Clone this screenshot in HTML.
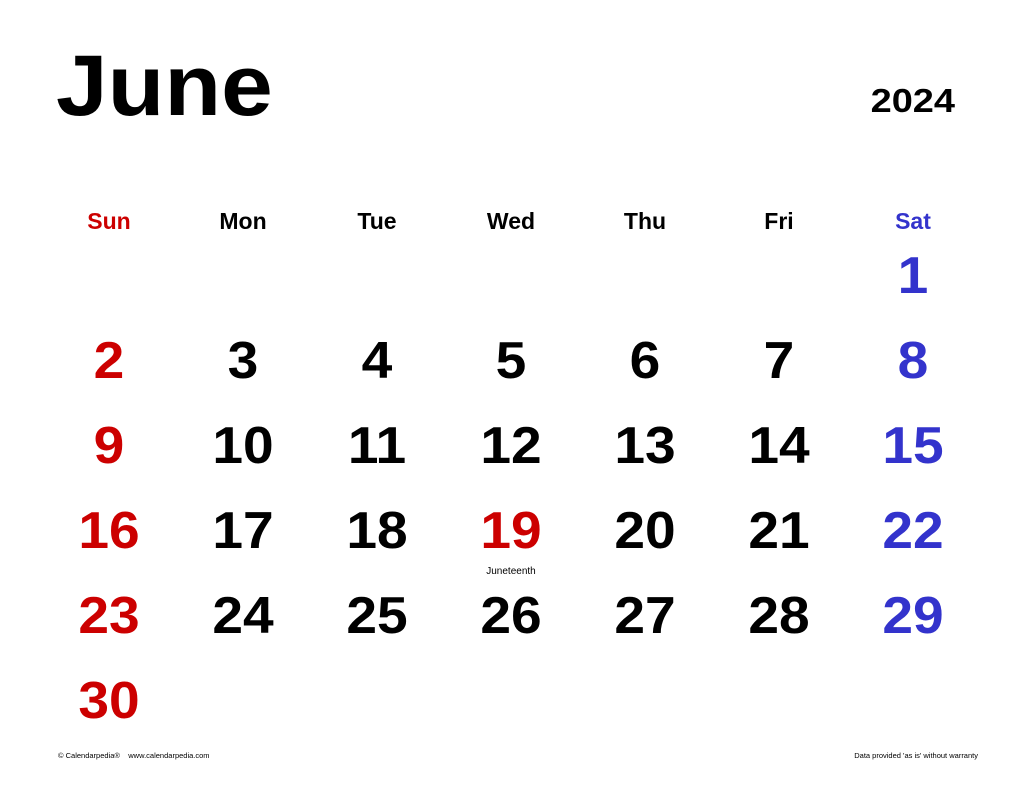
<!DOCTYPE html>
<html><head><meta charset="utf-8"><style>
html,body{margin:0;padding:0;background:#fff;}
svg{display:block;font-family:"Liberation Sans",Arial,sans-serif;font-weight:bold;}
</style></head><body>
<svg width="1024" height="791" viewBox="0 0 1024 791">
<text transform="translate(56,115) scale(1.08,1)" font-size="86">June</text>
<text transform="translate(955,112) scale(1.15,1)" font-size="33" text-anchor="end">2024</text>
<g id="hdr" font-size="23" text-anchor="middle"></g>
<g id="days" font-size="52" text-anchor="middle"></g>
<text x="511" y="574" font-size="10" font-weight="normal" text-anchor="middle">Juneteenth</text>
<text x="58" y="758" font-size="7.5" font-weight="normal" xml:space="preserve">© Calendarpedia®    www.calendarpedia.com</text>
<text x="978" y="758" font-size="7.5" font-weight="normal" text-anchor="end">Data provided 'as is' without warranty</text>
</svg>
<script>
const weekdays=["Sun","Mon","Tue","Wed","Thu","Fri","Sat"];
const firstWeekday=6;
const daysInMonth=30;
const holidays=[19];
const NS="http://www.w3.org/2000/svg";
function colX(c){return 109+c*134;}
function rowY(r){return 297+r*85;}
function color(c,d){if(c===0||holidays.includes(d))return"#cc0000";if(c===6)return"#3333cc";return"#000";}
const hdr=document.getElementById("hdr");
weekdays.forEach((w,i)=>{const t=document.createElementNS(NS,"text");
t.setAttribute("x",colX(i));t.setAttribute("y",229);
t.setAttribute("fill",i===0?"#cc0000":i===6?"#3333cc":"#000");
t.textContent=w;


hdr.appendChild(t);});
const days=document.getElementById("days");
for(let d=1;d<=daysInMonth;d++){const idx=firstWeekday+d-1;const c=idx%7,r=Math.floor(idx/7);
const t=document.createElementNS(NS,"text");
t.setAttribute("transform","translate("+colX(c)+","+(rowY(r)-4)+") scale(1.06,1)");
t.setAttribute("fill",color(c,d));
t.textContent=d;


days.appendChild(t);}
</script>
</body></html>
